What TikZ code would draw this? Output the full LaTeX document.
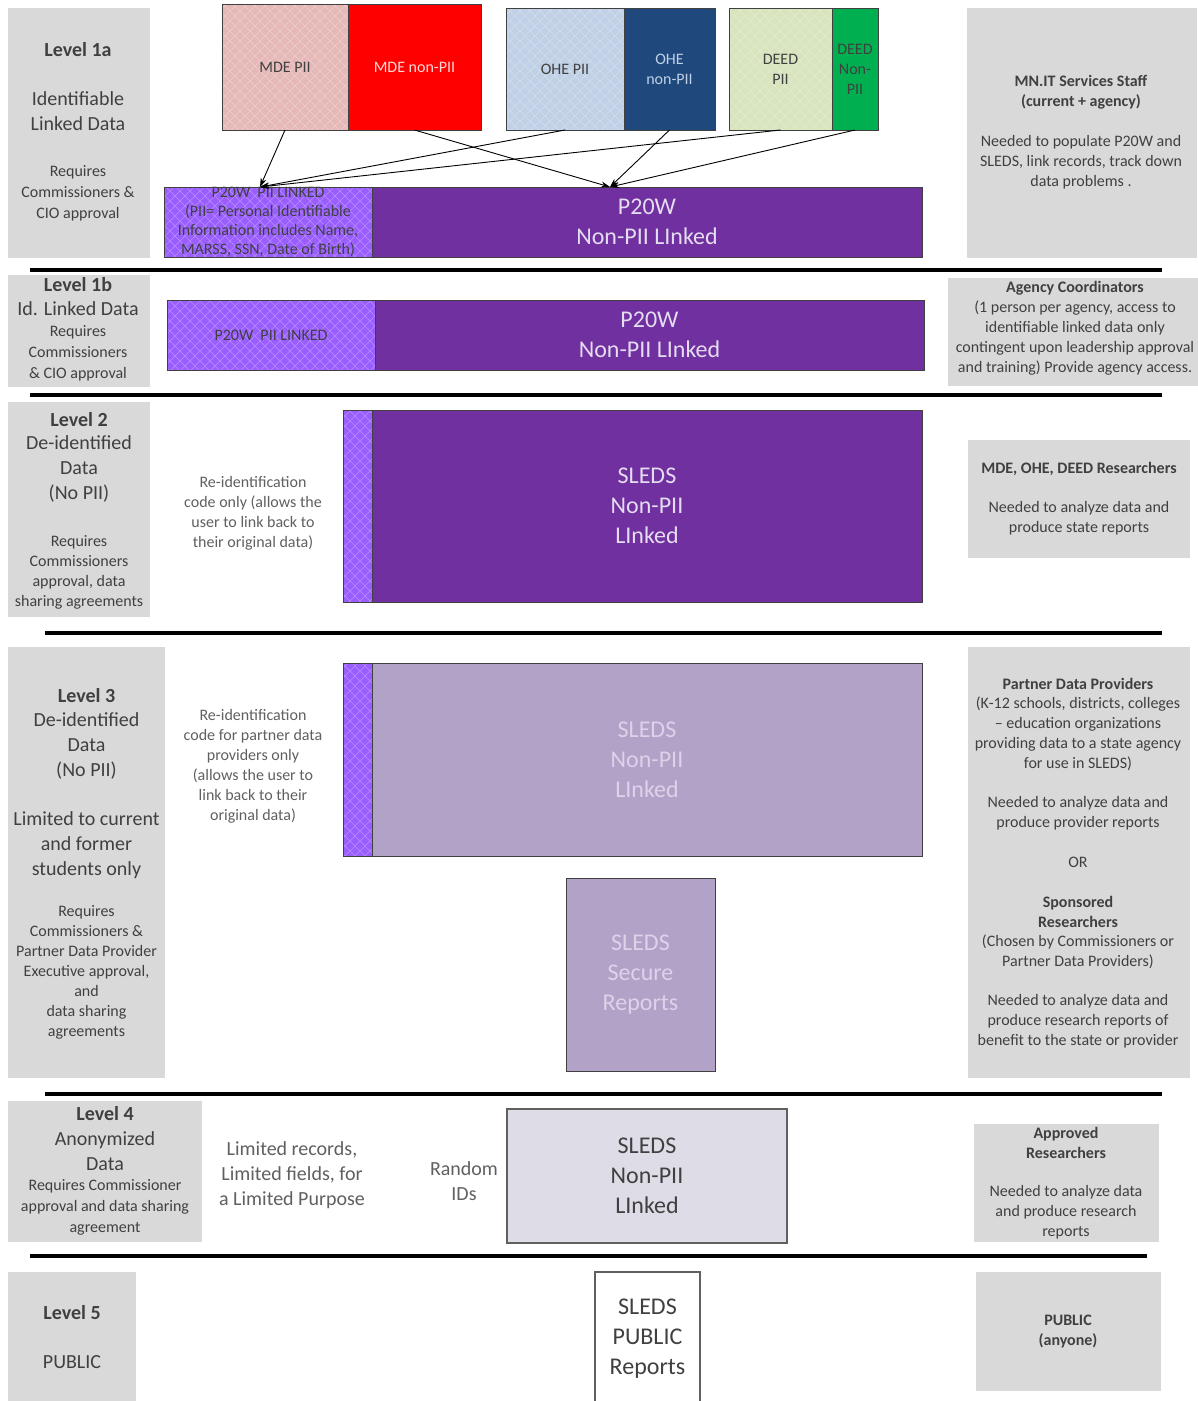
\documentclass[tikz,border=0pt]{standalone}
\usepackage{fontspec}
\setmainfont{Carlito}
\usetikzlibrary{patterns.meta,arrows.meta}
\definecolor{boxgray}{HTML}{D9D9D9}
\definecolor{tgray}{HTML}{404040}
\definecolor{mgray}{HTML}{606060}
\definecolor{pinkpii}{HTML}{E6B9B8}
\definecolor{mdered}{HTML}{FF0000}
\definecolor{ohelight}{HTML}{C0D0E6}
\definecolor{ohedark}{HTML}{1F497D}
\definecolor{deedlight}{HTML}{D7E4BD}
\definecolor{deedgreen}{HTML}{00B050}
\definecolor{purp}{HTML}{7030A0}
\definecolor{lpurp}{HTML}{9A5EFF}
\definecolor{mauve}{HTML}{B3A2C7}
\definecolor{lav}{HTML}{E4DCF0}
\definecolor{mautxt}{HTML}{DCD2EA}
\definecolor{palebox}{HTML}{DEDCE6}
\tikzdeclarepattern{name=diam, type=uncolored,
  bounding box={(-0.2pt,-0.2pt) and (10.2pt,10.2pt)}, tile size={(10pt,10pt)},
  code={\draw[line width=0.6pt] (0pt,0pt)--(10pt,10pt) (0pt,10pt)--(10pt,0pt);}}
\tikzset{
  fs/.style={font=\fontsize{16}{20}\selectfont},
  fm/.style={font=\fontsize{20}{25}\selectfont},
  fl/.style={font=\fontsize{24}{30}\selectfont},
  fb/.style={font=\fontsize{16}{20}\selectfont\bfseries},
  fbl/.style={font=\fontsize{20}{25}\selectfont\bfseries},
  txt/.style={align=center, text=tgray, inner sep=0pt},
  rbox/.style={draw=tgray, line width=1pt, inner sep=0pt, outer sep=0pt, align=center},
  hatch/.style={preaction={fill=#1}, pattern=diam, pattern color=white!30!#1},
  sep/.style={line width=3.5pt, black},
  arr/.style={line width=0.9pt, -{Stealth[length=9pt,width=6pt]}},
}
\begin{document}
\begin{tikzpicture}[x=1pt,y=-1pt]
\useasboundingbox[fill=white] (0,0) rectangle (1198,1401);
% gray boxes
\fill[boxgray] (8,8) rectangle (150,258);
\fill[boxgray] (967,8) rectangle (1197,258);
\fill[boxgray] (8,275) rectangle (150,387);
\fill[boxgray] (948,278) rectangle (1198,386);
\fill[boxgray] (8,402) rectangle (150,617);
\fill[boxgray] (968,440) rectangle (1190,558);
\fill[boxgray] (8,647) rectangle (165,1078);
\fill[boxgray] (968,647) rectangle (1190,1078);
\fill[boxgray] (8,1101) rectangle (202,1242);
\fill[boxgray] (974,1124) rectangle (1159,1242);
\fill[boxgray] (8,1272) rectangle (136,1401);
\fill[boxgray] (976,1272) rectangle (1161,1391);
% separators
\draw[sep] (30,270) -- (1162,270);
\draw[sep] (30,395) -- (1162,395);
\draw[sep] (45,633) -- (1162,633);
\draw[sep] (45,1094) -- (1162,1094);
\draw[sep] (30,1256) -- (1147,1256);
% top source boxes
\node[rbox, hatch=pinkpii, minimum width=126pt, minimum height=126pt, fs, text=tgray] (mdepii) at (285,67) {MDE PII};
\node[rbox, fill=mdered, minimum width=133pt, minimum height=126pt, fs, text=red!15!white] (mdenon) at (414.5,67) {MDE non-PII};
\node[rbox, hatch=ohelight, minimum width=118pt, minimum height=122pt, fs, text=tgray] (ohepii) at (565,69) {OHE PII};
\node[rbox, fill=ohedark, minimum width=91pt, minimum height=122pt, fs, text=ohelight] (ohenon) at (669.5,69) {OHE\\non-PII};
\node[rbox, hatch=deedlight, minimum width=103pt, minimum height=122pt, fs, text=tgray] (deedpii) at (780.5,69) {DEED\\PII};
\node[rbox, fill=deedgreen, minimum width=46pt, minimum height=122pt, fs, text=tgray] (deednon) at (855,69) {DEED\\Non-\\PII};
% level 1a targets
\node[rbox, hatch=lpurp, minimum width=208pt, minimum height=70pt, font=\fontsize{16}{19}\selectfont, text=tgray] (p20wpii) at (268,222) {P20W \ PII LINKED\\(PII= Personal Identifiable\\Information includes Name,\\MARSS, SSN, Date of Birth)};
\node[rbox, fill=purp, minimum width=550pt, minimum height=70pt, fl, text=lav] (p20wnon) at (647,222) {P20W\\Non-PII LInked};
\coordinate (tA) at (260,187);
\coordinate (tB) at (610,187);
\draw[arr] (mdepii.south) -- (tA);
\draw[arr] (ohepii.south) -- (tA);
\draw[arr] (deedpii.south) -- (tA);
\draw[arr] (mdenon.south) -- (tB);
\draw[arr] (ohenon.south) -- (tB);
\draw[arr] (deednon.south) -- (tB);
% level 1a text
\node[txt, fbl] (l1at) at (78,50) {Level 1a};
\node[txt, fm] (l1as) at (78,111.5) {Identifiable\\Linked Data};
\node[txt, font=\fontsize{16}{21}\selectfont] (l1ar) at (78,193) {Requires\\Commissioners \&\\CIO approval};
\node[txt, fb] (r1at) at (1081,92) {MN.IT Services Staff\\(current + agency)};
\node[txt, fs] (r1ab) at (1081,162) {Needed to populate P20W and\\SLEDS, link records, track down\\data problems .};
% level 1b
\node[rbox, hatch=lpurp, minimum width=208pt, minimum height=70pt, fs, text=tgray] (b1pii) at (271,335) {P20W \ PII LINKED};
\node[rbox, fill=purp, minimum width=549pt, minimum height=70pt, fl, text=lav] (b1non) at (649.5,335) {P20W\\Non-PII LInked};
\node[txt, fbl] (l1bt) at (78,285) {Level 1b};
\node[txt, fm] (l1bs) at (78,309) {Id. Linked Data};
\node[txt, font=\fontsize{16}{21}\selectfont] (l1br) at (78,353) {Requires\\Commissioners\\\& CIO approval};
\node[txt, fs] (r1b) at (1075,328) {\textbf{Agency Coordinators}\\(1 person per agency, access to\\identifiable linked data only\\contingent upon leadership approval\\and training) Provide agency access.};
% level 2
\node[rbox, hatch=lpurp, minimum width=29pt, minimum height=192pt] (l2n) at (357.5,506) {};
\node[rbox, fill=purp, minimum width=550pt, minimum height=192pt, fl, text=lav] (l2b) at (647,506) {SLEDS\\Non-PII\\LInked};
\node[txt, fbl] (l2t) at (79,420) {Level 2};
\node[txt, fm] (l2s) at (79,469) {De-identified\\Data\\(No PII)};
\node[txt, fs] (l2r) at (79,572) {Requires\\Commissioners\\approval, data\\sharing agreements};
\node[txt, fs, text=mgray] (l2m) at (253,513) {Re-identification\\code only (allows the\\user to link back to\\their original data)};
\node[txt, fb] (r2t) at (1079,469) {MDE, OHE, DEED Researchers};
\node[txt, fs] (r2b) at (1079,518) {Needed to analyze data and\\produce state reports};
% level 3
\node[rbox, hatch=lpurp, minimum width=29pt, minimum height=193pt] (l3n) at (357.5,759.5) {};
\node[rbox, fill=mauve, minimum width=550pt, minimum height=193pt, fl, text=mautxt] (l3b) at (647,759.5) {SLEDS\\Non-PII\\LInked};
\node[rbox, fill=mauve, minimum width=149pt, minimum height=193pt, fl, text=mautxt] (sec) at (640.5,974.5) {SLEDS\\Secure\\Reports};
\node[txt, fbl] (l3t) at (86.5,696) {Level 3};
\node[txt, fm] (l3s) at (86.5,746) {De-identified\\Data\\(No PII)};
\node[txt, fm] (l3l) at (86.5,845) {Limited to current\\and former\\students only};
\node[txt, fs] (l3r) at (86.5,972) {Requires\\Commissioners \&\\Partner Data Provider\\Executive approval,\\and\\data sharing\\agreements};
\node[txt, fs, text=mgray] (l3m) at (253,766.5) {Re-identification\\code for partner data\\providers only\\(allows the user to\\link back to their\\original data)};
\node[txt, fb] (r3t) at (1078,684) {Partner Data Providers};
\node[txt, fs] (r3a) at (1078,733.5) {(K-12 schools, districts, colleges\\– education organizations\\providing data to a state agency\\for use in SLEDS)};
\node[txt, fs] (r3b) at (1078,813) {Needed to analyze data and\\produce provider reports};
\node[txt, fs] (r3or) at (1078,862) {OR};
\node[txt, fb] (r3c) at (1078,912) {Sponsored\\Researchers};
\node[txt, fs] (r3d) at (1078,952) {(Chosen by Commissioners or\\Partner Data Providers)};
\node[txt, fs] (r3e) at (1078,1021) {Needed to analyze data and\\produce research reports of\\benefit to the state or provider};
% level 4
\node[rbox, draw=mgray, line width=1.5pt, fill=palebox, minimum width=280pt, minimum height=134pt, fl, text=tgray] (l4b) at (647,1176) {SLEDS\\Non-PII\\LInked};
\node[txt, fbl] (l4t) at (105,1114) {Level 4};
\node[txt, fm] (l4s) at (105,1151) {Anonymized\\Data};
\node[txt, font=\fontsize{16}{21}\selectfont] (l4r) at (105,1207) {Requires Commissioner\\approval and data sharing\\agreement};
\node[txt, fm, text=mgray] (l4m) at (292,1175) {Limited records,\\Limited fields, for\\a Limited Purpose};
\node[txt, fm, text=mgray] (l4id) at (464,1181.5) {Random\\IDs};
\node[txt, fb] (r4t) at (1066,1143) {Approved\\Researchers};
\node[txt, fs] (r4b) at (1066,1212) {Needed to analyze data\\and produce research\\reports};
% level 5
\node[rbox, draw=mgray, line width=1.5pt, fill=white, minimum width=105pt, minimum height=134pt, fl, text=tgray] (l5b) at (647.5,1339) {SLEDS\\PUBLIC\\Reports};
\node[txt, fbl] (l5t) at (72,1313) {Level 5};
\node[txt, fm] (l5s) at (72,1362) {PUBLIC};
\node[txt, fb] (r5) at (1068,1331) {PUBLIC\\(anyone)};
\end{tikzpicture}
\end{document}
